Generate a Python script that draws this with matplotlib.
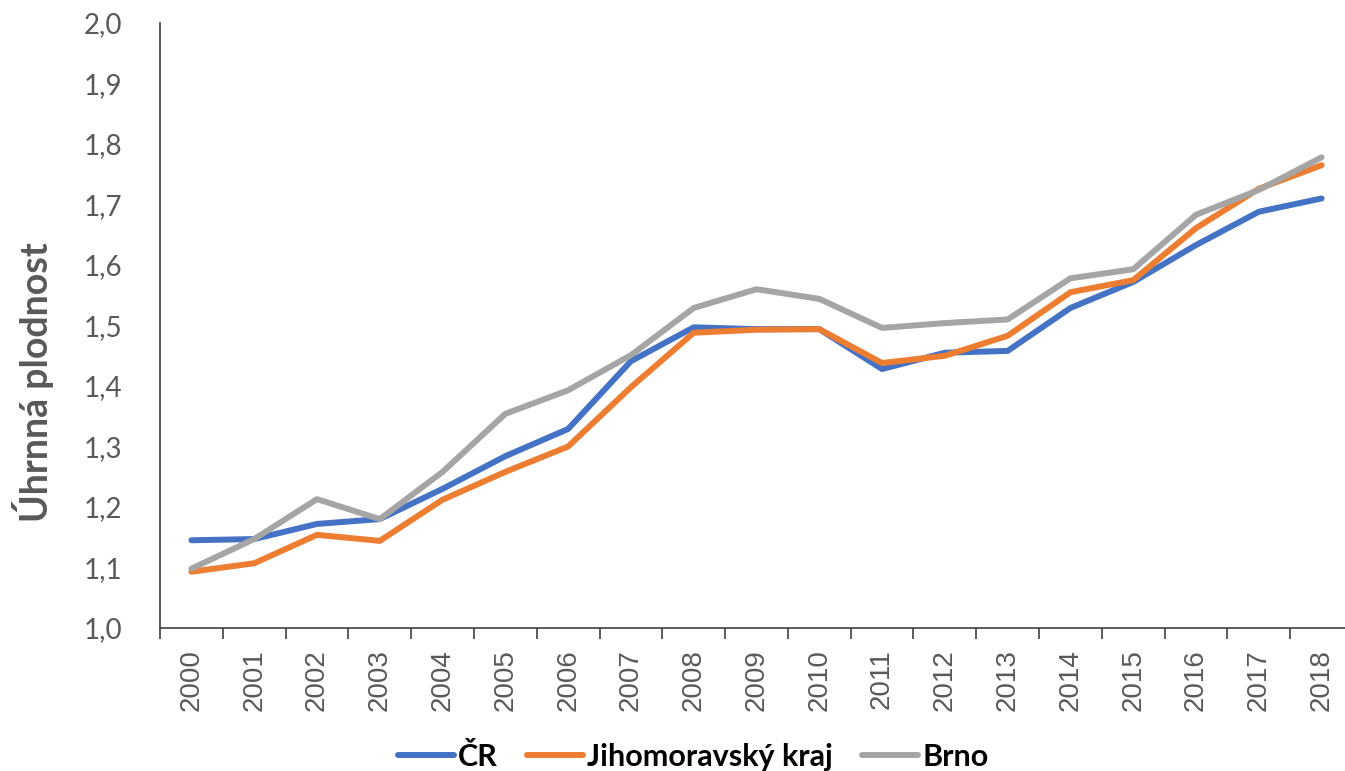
import matplotlib.pyplot as plt
import numpy as np

years = [str(y) for y in range(2000, 2019)]
cr = [1.145, 1.147, 1.172, 1.180, 1.230, 1.284, 1.329, 1.441, 1.497, 1.494,
      1.494, 1.428, 1.455, 1.458, 1.529, 1.572, 1.633, 1.688, 1.710]
jmk = [1.093, 1.107, 1.154, 1.144, 1.212, 1.258, 1.300, 1.398, 1.488, 1.493,
       1.494, 1.438, 1.450, 1.483, 1.555, 1.575, 1.661, 1.726, 1.765]
brno = [1.098, 1.147, 1.213, 1.180, 1.258, 1.354, 1.393, 1.451, 1.529, 1.560,
        1.544, 1.496, 1.504, 1.510, 1.578, 1.593, 1.683, 1.724, 1.778]
series_names = ['ČR', 'Jihomoravský kraj', 'Brno']
colors = ['#4472C4', '#ED7D31', '#A5A5A5']

plt.rcParams['font.family'] = ['Lato', 'DejaVu Sans']
grey = '#595959'
axis_col = '#404040'

fig = plt.figure(figsize=(13.45, 7.71), dpi=100)
ax = fig.add_axes([160 / 1345, 1 - 628 / 771, 1193 / 1345, 605 / 771])

x = np.arange(len(years))
for vals, name, c in zip([cr, jmk, brno], series_names, colors):
    ax.plot(x, vals, color=c, lw=4.3, label=name, solid_capstyle='round')

ax.set_ylim(1.0, 2.0)
ax.set_xlim(-0.5, len(years) - 0.5)
yt = np.round(np.arange(1.0, 2.01, 0.1), 1)
ax.set_yticks(yt)
ax.set_yticklabels([f'{v:.1f}'.replace('.', ',') for v in yt], fontsize=20, color=grey)
ax.tick_params(axis='y', length=0, pad=27)

ax.set_xticks(x)
ax.set_xticklabels(years, rotation=90, fontsize=20, color=grey,
                   family=['Liberation Sans', 'DejaVu Sans'])
ax.tick_params(axis='x', which='major', length=0, pad=15)
ax.set_xticks(np.arange(-0.5, len(years)), minor=True)
ax.tick_params(axis='x', which='minor', length=8, color=axis_col, width=1.2)

for s in ['top', 'right']:
    ax.spines[s].set_visible(False)
for s in ['left', 'bottom']:
    ax.spines[s].set_color(axis_col)
    ax.spines[s].set_linewidth(1.2)

fig.text(33 / 1345, 1 - 382 / 771, 'Úhrnná plodnost', rotation=90, ha='center',
         va='center', fontsize=27, fontweight='bold', color=grey)

fig.legend(loc='center', bbox_to_anchor=(693 / 1345, 1 - 757 / 771), ncol=3,
           frameon=False, prop={'size': 22, 'weight': 'bold'},
           handlelength=1.85, columnspacing=0.95, handletextpad=0.12)

fig.savefig('out.png', dpi=100)
